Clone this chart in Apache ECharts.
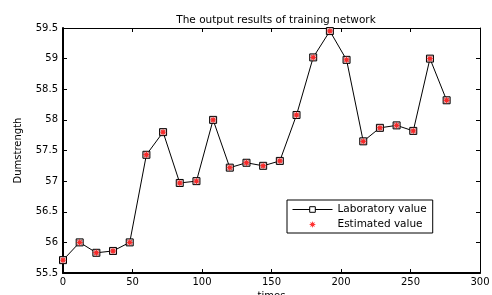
<!DOCTYPE html>
<html>
<head>
<meta charset="utf-8">
<script src="https://cdn.jsdelivr.net/npm/echarts@6/dist/echarts.min.js"></script>
<style>
  html, body { margin: 0; padding: 0; background: #fff; }
  #chart { width: 492px; height: 295px; }
</style>
</head>
<body>
<div id="chart"></div>
<script>
// sample index (times)
var times = [0, 12, 24, 36, 48, 60, 72, 84, 96, 108, 120, 132, 144, 156, 168, 180, 192, 204, 216, 228, 240, 252, 264, 276];
// measured values
var labValue = [55.71, 56.0, 55.83, 55.86, 56.0, 57.43, 57.8, 56.97, 57.0, 58.0, 57.22, 57.3, 57.25, 57.33, 58.08, 59.02, 59.45, 58.98, 57.65, 57.87, 57.91, 57.82, 59.0, 58.32];
// network output
var estValue = [55.71, 56.0, 55.83, 55.86, 56.0, 57.43, 57.8, 56.97, 57.0, 58.0, 57.22, 57.3, 57.25, 57.33, 58.08, 59.02, 59.45, 58.98, 57.65, 57.87, 57.91, 57.82, 59.0, 58.32];

var font = 'DejaVu Sans, Liberation Sans, sans-serif';
// asterisk-ish star marker
var starPath = 'path://M0,-10 L1.8,-4.2 L7.1,-7.1 L4.2,-1.8 L10,0 L4.2,1.8 L7.1,7.1 L1.8,4.2 L0,10 L-1.8,4.2 L-7.1,7.1 L-4.2,1.8 L-10,0 L-4.2,-1.8 L-7.1,-7.1 L-1.8,-4.2 Z';

var chart = echarts.init(document.getElementById('chart'));

function axisLook(w) {
  return {
    axisLine: { show: true, onZero: false, lineStyle: { color: '#000', width: w } },
    axisTick: { show: true, inside: true, length: 4, lineStyle: { color: '#000' } },
    splitLine: { show: false }
  };
}

var option = {
  animation: false,
  backgroundColor: '#fff',
  title: {
    text: 'The output results of training network',
    left: 271,
    top: 10,
    textAlign: 'center',
    textStyle: { fontFamily: font, fontSize: 10.5, fontWeight: 'normal', color: '#000' }
  },
  legend: {
    left: 287,
    top: 200,
    orient: 'vertical',
    itemGap: 4,
    itemWidth: 40,
    itemHeight: 7,
    padding: [4, 6, 3, 5],
    borderColor: '#000',
    borderWidth: 1,
    backgroundColor: '#fff',
    lineStyle: { width: 1 },
    textStyle: { fontFamily: font, fontSize: 10.5, color: '#000' },
    data: [
      { name: 'Laboratory value', itemStyle: { color: '#fff', borderWidth: 1 } },
      { name: 'Estimated value' }
    ]
  },
  grid: { left: 63, right: 12, top: 28, bottom: 22, outerBoundsMode: 'none' },
  xAxis: [
    Object.assign({
      type: 'value', min: 0, max: 300, interval: 50,
      name: 'times', nameLocation: 'middle', nameGap: 18,
      nameTextStyle: { fontFamily: font, fontSize: 10, color: '#000' },
      axisLabel: { fontFamily: font, fontSize: 10, color: '#000', margin: 4 }
    }, axisLook(2)),
    Object.assign({
      type: 'value', min: 0, max: 300, interval: 50, position: 'top',
      axisLabel: { show: false }
    }, axisLook(1))
  ],
  yAxis: [
    Object.assign({
      type: 'value', min: 55.5, max: 59.5, interval: 0.5,
      name: 'Dumstrength', nameLocation: 'middle', nameGap: 40, nameRotate: 90,
      nameTextStyle: { fontFamily: font, fontSize: 10, color: '#000' },
      axisLabel: { fontFamily: font, fontSize: 10, color: '#000', margin: 5 }
    }, axisLook(2)),
    Object.assign({
      type: 'value', min: 55.5, max: 59.5, interval: 0.5, position: 'right',
      axisLabel: { show: false }
    }, axisLook(1))
  ],
  series: [
    {
      name: 'Laboratory value',
      type: 'line',
      data: times.map(function (t, i) { return [t, labValue[i]]; }),
      symbol: 'rect',
      symbolSize: 7,
      showAllSymbol: true,
      lineStyle: { color: '#000', width: 1 },
      itemStyle: { color: '#d8d8d8', borderColor: '#000', borderWidth: 1 },
      z: 2
    },
    {
      name: 'Estimated value',
      type: 'scatter',
      data: times.map(function (t, i) { return [t, estValue[i]]; }),
      symbol: starPath,
      symbolSize: 8,
      itemStyle: { color: '#ff0000' },
      z: 3
    }
  ]
};

chart.setOption(option);
</script>
</body>
</html>
